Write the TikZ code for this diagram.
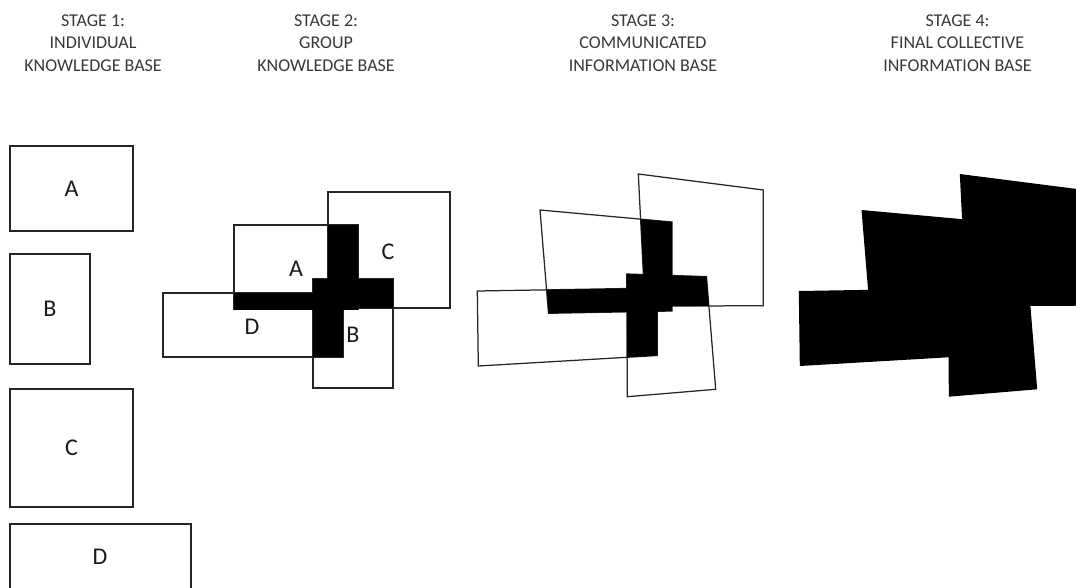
\documentclass[tikz,border=0pt]{standalone}
\usepackage{fontspec}
\setmainfont{Carlito}

% outlines of the four bases, one set per stage
\def\rAtwo{(234,225) rectangle (358,309)}
\def\rBtwo{(313,279) rectangle (393,388)}
\def\rCtwo{(328,192) rectangle (450,308)}
\def\rDtwo{(163,293) rectangle (343,357)}

\def\qA{(540,210) -- (672,222) -- (672,311) -- (548.5,313.3) -- cycle}
\def\qB{(626.7,274) -- (706.5,276.6) -- (715.7,389.3) -- (627.3,396.7) -- cycle}
\def\qC{(638.3,174) -- (763.3,190) -- (763.3,305.7) -- (645,306.2) -- cycle}
\def\qD{(477.3,291) -- (657.3,288) -- (657.3,355.5) -- (478.3,366) -- cycle}

% black where two bases overlap
\newcommand{\overlapfill}[2]{%
  \begin{scope}\clip #1; \fill[black] #2; \end{scope}}

\begin{document}
\begin{tikzpicture}[x=1pt,y=-1pt,
  outline/.style={draw=black!85, line width=1.25pt, line join=miter},
  title/.style={font=\fontsize{18}{22.5}\selectfont, align=center,
    text=black!78, anchor=base, inner sep=0pt},
  letter/.style={font=\fontsize{24}{27}\selectfont, text=black!90, inner sep=0pt}]

\useasboundingbox (0,0) rectangle (1076,587);
\clip (0,0) rectangle (1076,587);

% stage titles (anchored at the baseline of their last line)
\node[title] (t1) at (93,71)    {STAGE 1:\\INDIVIDUAL\\KNOWLEDGE BASE};
\node[title] (t2) at (326,71)   {STAGE 2:\\GROUP\\KNOWLEDGE BASE};
\node[title] (t3) at (643,71)   {STAGE 3:\\COMMUNICATED\\INFORMATION BASE};
\node[title] (t4) at (957.5,71) {STAGE 4:\\FINAL COLLECTIVE\\INFORMATION BASE};

% stage 1: separate bases
\draw[outline] (10,146) rectangle (133,231);
\draw[outline] (10,254) rectangle (90,364);
\draw[outline] (10,389) rectangle (133,507);
\draw[outline] (10,524) rectangle (191,600);
\node[letter] (a1) at (71.5,189) {A};
\node[letter] (b1) at (50,309)   {B};
\node[letter] (c1) at (71.5,448) {C};
\node[letter] (d1) at (100,557)  {D};

% stage 2: bases laid over one another
\draw[outline] \rAtwo;
\draw[outline] \rBtwo;
\draw[outline] \rCtwo;
\draw[outline] \rDtwo;
\overlapfill{\rAtwo}{\rBtwo}
\overlapfill{\rAtwo}{\rCtwo}
\overlapfill{\rAtwo}{\rDtwo}
\overlapfill{\rBtwo}{\rCtwo}
\overlapfill{\rBtwo}{\rDtwo}
\overlapfill{\rCtwo}{\rDtwo}
\node[letter] (a2) at (296,269) {A};
\node[letter] (c2) at (388,252) {C};
\node[letter] (d2) at (252,327) {D};
\node[letter] (b2) at (353,335) {B};

% stage 3: tilted bases
\draw[outline] \qA;
\draw[outline] \qB;
\draw[outline] \qC;
\draw[outline] \qD;
\overlapfill{\qA}{\qB}
\overlapfill{\qA}{\qC}
\overlapfill{\qA}{\qD}
\overlapfill{\qB}{\qC}
\overlapfill{\qB}{\qD}
\overlapfill{\qC}{\qD}

% stage 4: the merged whole
\begin{scope}[xshift=321.5pt]
  \fill[black] \qA;
  \fill[black] \qB;
  \fill[black] \qC;
  \fill[black] \qD;
\end{scope}
\end{tikzpicture}
\end{document}
